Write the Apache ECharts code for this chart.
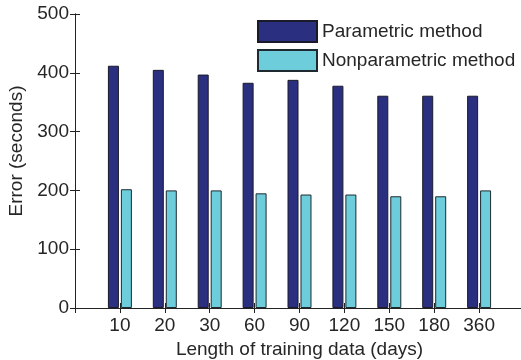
<!DOCTYPE html>
<html>
<head>
<meta charset="utf-8">
<script src="https://cdn.jsdelivr.net/npm/echarts@6/dist/echarts.min.js"></script>
<style>
  html, body { margin: 0; padding: 0; background: #fff; }
  #chart { width: 521px; height: 360px; }
</style>
</head>
<body>
<div id="chart"></div>
<script>
// training lengths (days)
const categories = ['10', '20', '30', '60', '90', '120', '150', '180', '360'];
const parametric = [412, 405, 397, 383, 388, 378, 361, 361, 361];
const nonparametric = [202, 200, 200, 195, 193, 193, 190, 190, 200];
const yTicks = [0, 100, 200, 300, 400, 500];

const chart = echarts.init(document.getElementById('chart'));

const axisColor = '#222';
const textColor = '#262626';
const font = 'Liberation Sans, Arial, sans-serif';

const xBase = {
  type: 'value',
  min: 0,
  max: categories.length + 1,
  interval: 1,
  splitLine: { show: false },
  axisLine: { lineStyle: { color: axisColor, width: 1 } },
  axisTick: { inside: true, length: 5, lineStyle: { color: axisColor } }
};
const yBase = {
  type: 'value',
  min: yTicks[0],
  max: yTicks[yTicks.length - 1],
  interval: yTicks[1] - yTicks[0],
  splitLine: { show: false },
  axisLine: { show: true, lineStyle: { color: axisColor, width: 1 } },
  axisTick: { show: true, inside: true, length: 5, lineStyle: { color: axisColor } }
};

chart.setOption({
  backgroundColor: '#fff',
  animation: false,
  textStyle: { fontFamily: font },
  // plot box runs a little past the right edge, like the original figure
  grid: { left: 75, right: -3, top: 14, bottom: 52, outerBoundsMode: 'none' },
  legend: {
    orient: 'vertical',
    left: 257,
    top: 20,
    padding: 0,
    itemWidth: 59,
    itemHeight: 21,
    itemGap: 6,
    icon: 'rect',
    textStyle: { fontSize: 19, color: textColor, fontFamily: font }
  },
  xAxis: [
    Object.assign({}, xBase, {
      position: 'bottom',
      name: 'Length of training data (days)',
      nameLocation: 'middle',
      nameGap: 30,
      nameTextStyle: { fontSize: 19, color: textColor, fontFamily: font },
      axisLabel: {
        fontSize: 19, color: textColor, margin: 8, fontFamily: font,
        formatter: v => (v >= 1 && v <= categories.length) ? categories[v - 1] : ''
      }
    }),
    Object.assign({}, xBase, { position: 'top', axisLabel: { show: false } })
  ],
  yAxis: [
    Object.assign({}, yBase, {
      position: 'left',
      name: 'Error (seconds)',
      nameLocation: 'middle',
      nameGap: 48,
      nameTextStyle: { fontSize: 19, color: textColor, fontFamily: font, padding: [0, 0, 0, 20] },
      axisLabel: { fontSize: 19, color: textColor, margin: 6, fontFamily: font }
    }),
    Object.assign({}, yBase, { position: 'right', axisLabel: { show: false } })
  ],
  series: [
    {
      name: 'Parametric method',
      type: 'bar',
      xAxisIndex: 0,
      yAxisIndex: 0,
      barWidth: 11,
      barGap: '18%',
      data: categories.map((c, i) => [i + 1, parametric[i]]),
      itemStyle: { color: '#2b2f80', borderColor: '#1a1a2a', borderWidth: 1 }
    },
    {
      name: 'Nonparametric method',
      type: 'bar',
      xAxisIndex: 0,
      yAxisIndex: 0,
      barWidth: 11,
      barGap: '18%',
      data: categories.map((c, i) => [i + 1, nonparametric[i]]),
      itemStyle: { color: '#6dcdda', borderColor: '#1e2a30', borderWidth: 1 }
    }
  ]
});
</script>
</body>
</html>
